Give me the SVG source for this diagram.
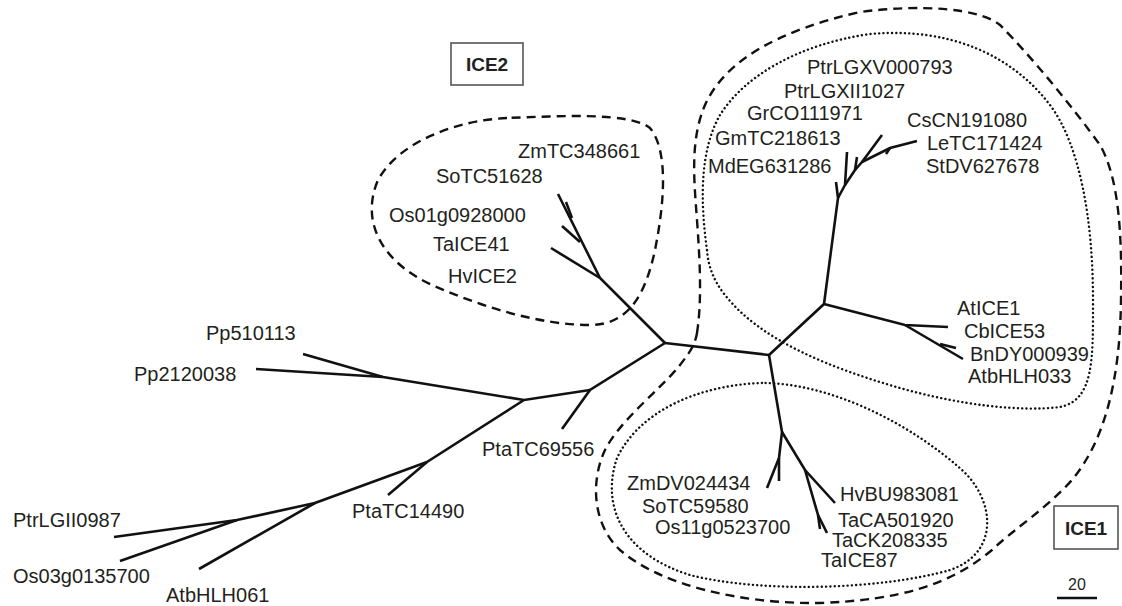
<svg xmlns="http://www.w3.org/2000/svg" width="1122" height="606" viewBox="0 0 1122 606">
<style>
.lbl{font-family:"Liberation Sans",Arial,Helvetica,sans-serif;font-size:20px;fill:#231f20}
.box{fill:#fff;stroke:#555;stroke-width:1.6}
.boxt{font-family:"Liberation Sans",Arial,Helvetica,sans-serif;font-size:19px;font-weight:bold;fill:#231f20;text-anchor:middle}
.br{fill:none;stroke:#111;stroke-width:2.6;stroke-linecap:butt;stroke-linejoin:miter}
.dash{fill:none;stroke:#111;stroke-width:2.4;stroke-dasharray:9 6}
.dot{fill:none;stroke:#111;stroke-width:2.4;stroke-dasharray:0.1 4.2;stroke-linecap:round}
</style>
<rect width="1122" height="606" fill="#fff"/>

<g id="outlines">
<path class="dash" d="M 507,118 C 460,120 400,140 378,180 C 360,222 382,262 432,285 C 482,307 540,325 590,325 C 630,325 646,292 655,250 C 665,200 668,150 650,128 C 630,112 560,116 507,118 Z"/>
<path class="dash" d="M 697,333 C 702,300 700,262 697,220 C 694,180 690,140 705,105 C 725,60 780,30 860,12 C 920,4 980,8 1000,25 C 1030,55 1075,110 1100,145 C 1120,180 1122,240 1121,300 C 1120,380 1105,440 1072,480 C 1045,510 1015,528 992,550 C 950,585 900,600 820,603 C 740,604 660,585 620,550 C 593,525 590,482 605,450 C 620,420 662,388 680,365 C 690,352 695,345 697,333 Z"/>
<path class="dot" d="M 707,250 C 700,200 700,150 720,115 C 745,75 800,44 870,34 C 950,27 1012,55 1050,105 C 1080,145 1093,220 1093,300 C 1093,360 1094,400 1060,407 C 1020,412 960,405 900,388 C 830,368 760,340 725,295 C 713,280 708,265 707,250 Z"/>
<path class="dot" d="M 762,383 C 700,385 640,410 617,458 C 600,508 625,555 690,575 C 760,593 880,590 950,570 C 1000,553 995,500 962,470 C 912,425 832,383 762,383 Z"/>
</g>

<g id="connectors">
<!-- backbone -->
<path class="br" d="M 665,343 L 769,355"/>
<!-- ICE2 clade -->
<path class="br" d="M 665,343 L 600,278 L 558,194"/>
<path class="br" d="M 600,278 L 551,248"/>
<path class="br" d="M 580,242 L 562,226"/>
<path class="br" d="M 572,218 L 566,202"/>
<!-- outgroup -->
<path class="br" d="M 665,343 L 590,390 L 562,429"/>
<path class="br" d="M 590,390 L 524,400 L 383,377 L 303,354"/>
<path class="br" d="M 383,377 L 256,369"/>
<path class="br" d="M 524,400 L 427,462 L 388,495"/>
<path class="br" d="M 427,462 L 315,503 L 199,569"/>
<path class="br" d="M 315,503 L 237,520 L 114,537"/>
<path class="br" d="M 237,520 L 120,561"/>
<!-- ICE1 dicots -->
<path class="br" d="M 769,355 L 824,304 L 838,198 L 836,182"/>
<path class="br" d="M 838,198 L 845,185 L 847,152"/>
<path class="br" d="M 845,185 L 855,170 L 857,157"/>
<path class="br" d="M 855,170 L 862,162 L 882,135"/>
<path class="br" d="M 862,162 L 890,148 L 917,141"/>
<path class="br" d="M 890,148 L 886,154"/>
<path class="br" d="M 824,304 L 905,325 L 948,327"/>
<path class="br" d="M 905,325 L 963,359"/>
<path class="br" d="M 940,344 L 956,348"/>
<!-- ICE1 monocots -->
<path class="br" d="M 769,355 L 782,432 L 779,458 L 767,488"/>
<path class="br" d="M 779,458 L 779,481"/>
<path class="br" d="M 782,432 L 805,470 L 835,503"/>
<path class="br" d="M 805,470 L 818,515 L 820,529"/>
<path class="br" d="M 818,515 L 827,533"/>
</g>

<g id="ICE2-box"><rect class="box" x="451" y="43" width="72" height="42"/><text class="boxt" x="487" y="71">ICE2</text></g>
<g id="ICE1-box"><rect class="box" x="1054" y="506" width="64" height="43"/><text class="boxt" x="1086" y="535">ICE1</text></g>

<g id="ZmTC348661"><text class="lbl" x="518" y="158">ZmTC348661</text></g>
<g id="SoTC51628"><text class="lbl" x="436" y="183">SoTC51628</text></g>
<g id="Os01g0928000"><text class="lbl" x="389" y="222">Os01g0928000</text></g>
<g id="TaICE41"><text class="lbl" x="433" y="251">TaICE41</text></g>
<g id="HvICE2"><text class="lbl" x="448" y="283">HvICE2</text></g>

<g id="PtrLGXV000793"><text class="lbl" x="807" y="74">PtrLGXV000793</text></g>
<g id="PtrLGXII1027"><text class="lbl" x="784" y="98">PtrLGXII1027</text></g>
<g id="GrCO111971"><text class="lbl" x="747" y="120">GrCO111971</text></g>
<g id="GmTC218613"><text class="lbl" x="715" y="145">GmTC218613</text></g>
<g id="MdEG631286"><text class="lbl" x="708" y="173">MdEG631286</text></g>
<g id="CsCN191080"><text class="lbl" x="907" y="127">CsCN191080</text></g>
<g id="LeTC171424"><text class="lbl" x="927" y="150">LeTC171424</text></g>
<g id="StDV627678"><text class="lbl" x="926" y="173">StDV627678</text></g>

<g id="AtICE1"><text class="lbl" x="957" y="315">AtICE1</text></g>
<g id="CbICE53"><text class="lbl" x="964" y="338">CbICE53</text></g>
<g id="BnDY000939"><text class="lbl" x="970" y="361">BnDY000939</text></g>
<g id="AtbHLH033"><text class="lbl" x="968" y="383">AtbHLH033</text></g>

<g id="ZmDV024434"><text class="lbl" x="627" y="490">ZmDV024434</text></g>
<g id="SoTC59580"><text class="lbl" x="642" y="513">SoTC59580</text></g>
<g id="Os11g0523700"><text class="lbl" x="655" y="534">Os11g0523700</text></g>
<g id="HvBU983081"><text class="lbl" x="840" y="501">HvBU983081</text></g>
<g id="TaCA501920"><text class="lbl" x="838" y="527">TaCA501920</text></g>
<g id="TaCK208335"><text class="lbl" x="832" y="547">TaCK208335</text></g>
<g id="TaICE87"><text class="lbl" x="821" y="567">TaICE87</text></g>

<g id="Pp510113"><text class="lbl" x="206" y="340">Pp510113</text></g>
<g id="Pp2120038"><text class="lbl" x="134" y="381">Pp2120038</text></g>
<g id="PtaTC69556"><text class="lbl" x="482" y="456">PtaTC69556</text></g>
<g id="PtaTC14490"><text class="lbl" x="352" y="518">PtaTC14490</text></g>
<g id="PtrLGII0987"><text class="lbl" x="13" y="527">PtrLGII0987</text></g>
<g id="Os03g0135700"><text class="lbl" x="13" y="583">Os03g0135700</text></g>
<g id="AtbHLH061"><text class="lbl" x="166" y="602">AtbHLH061</text></g>

<g id="scale"><text x="1077" y="590" style="font-family:'Liberation Sans',Arial,sans-serif;font-size:16px;fill:#231f20;text-anchor:middle">20</text><line x1="1057" y1="598" x2="1097" y2="598" stroke="#111" stroke-width="2.6"/></g>
</svg>
